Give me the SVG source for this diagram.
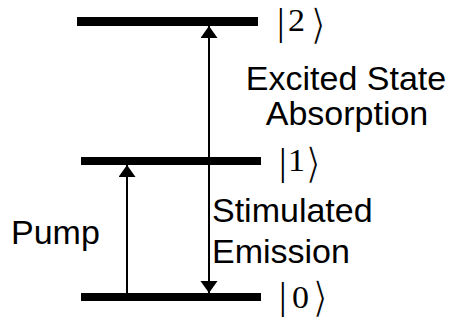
<svg xmlns="http://www.w3.org/2000/svg" width="452" height="322" viewBox="0 0 452 322">
<style>
.level{fill:#000}
.lbl{font-family:"Liberation Sans",Arial,sans-serif;font-size:34px;fill:#000}
.ket{font-family:"Liberation Serif","Times New Roman",serif;fill:#000}
.bar{font-size:38px}
.num{font-size:31px}
.br{font-family:"DejaVu Sans",sans-serif;font-size:42px;stroke:#fff;stroke-width:1.2px}
.arrow{stroke:#000;stroke-width:2;fill:none}
</style>
<defs>
<marker id="head" markerUnits="userSpaceOnUse" markerWidth="14" markerHeight="18" refX="12" refY="8.5" orient="auto" viewBox="0 0 14 18">
<path d="M0,0 L12,8.5 L0,17 z" fill="#000"/>
</marker>
</defs>
<rect width="452" height="322" fill="#fff"/>
<g id="level2">
<rect class="level" x="77" y="17" width="181" height="9"/>
<text class="ket"><tspan class="bar" x="277" y="35">|</tspan><tspan class="num" x="288" y="31" textLength="17" lengthAdjust="spacingAndGlyphs">2</tspan><tspan class="br" x="310" y="39">⟩</tspan></text>
</g>
<g id="level1">
<rect class="level" x="81" y="157" width="180" height="8"/>
<text class="ket"><tspan class="bar" x="279" y="175">|</tspan><tspan class="num" x="288" y="171" textLength="17" lengthAdjust="spacingAndGlyphs">1</tspan><tspan class="br" x="305" y="178">⟩</tspan></text>
</g>
<g id="level0">
<rect class="level" x="81" y="293" width="180" height="8"/>
<text class="ket"><tspan class="bar" x="279" y="309">|</tspan><tspan class="num" x="292" y="308" textLength="17" lengthAdjust="spacingAndGlyphs">0</tspan><tspan class="br" x="312" y="312">⟩</tspan></text>
</g>
<g id="connectors">
<line class="arrow" x1="209" y1="157" x2="209" y2="26" marker-end="url(#head)"/>
<line class="arrow" x1="209" y1="165" x2="209" y2="293" marker-end="url(#head)"/>
<line class="arrow" x1="127" y1="293" x2="127" y2="165" marker-end="url(#head)"/>
<text class="lbl" text-anchor="middle"><tspan x="346" y="90">Excited State</tspan><tspan x="347" y="125">Absorption</tspan></text>
<text class="lbl"><tspan x="212" y="222">Stimulated</tspan><tspan x="212" y="263">Emission</tspan></text>
<text class="lbl" x="11" y="244">Pump</text>
</g>
</svg>
